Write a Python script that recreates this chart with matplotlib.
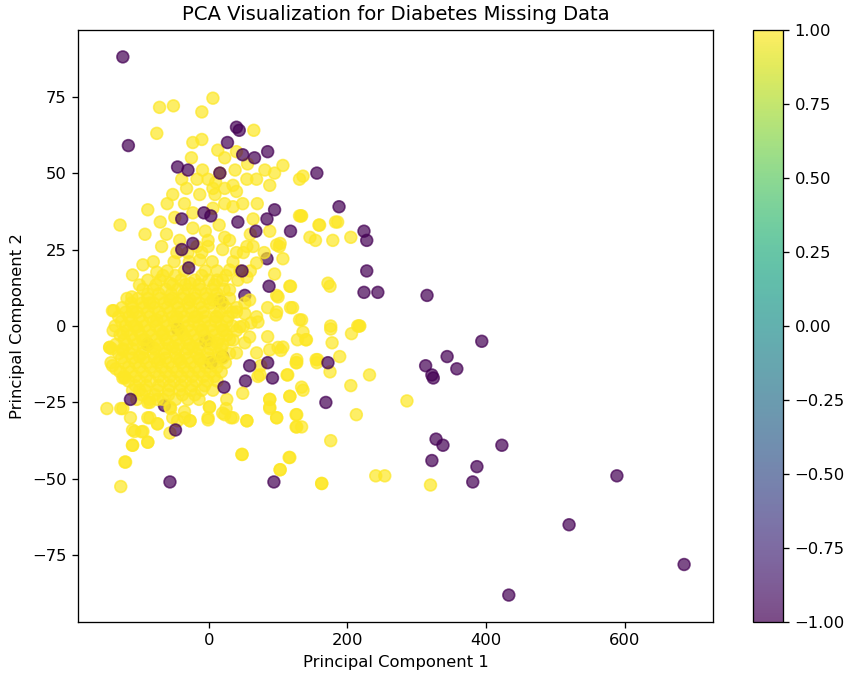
import numpy as np
import matplotlib
matplotlib.use("Agg")
import matplotlib.pyplot as plt

# PCA scores, split by label (-1 = missing, 1 = not missing)

# purple points partly hidden under the yellow cloud
under_pts = [(84, 22), (52, 10), (17, 8), (-4, -5), (20, -10), (3, -12), (-45, -1),
             (-88, -6), (-64, -26), (53, -18)]

yellow_pts = [
    (6, 74.5), (-71, 71.5), (-51, 72), (-10, 70), (65, 64), (-75, 63), (-23, 60), (-10, 61),
    (13, 57.5), (23, 55), (40, 57), (107, 52.5), (136, 49), (131, 48), (88, 46), (81, 51),
    (95, 50), (69, 48), (55, 48), (38, 51), (56, 53), (16, 50), (23, 45), (40, 44), (6, 45),
    (-9, 51), (-17, 48), (-1, 48), (-39, 48), (-52, 43), (-32, 45), (-13, 43), (9, 43),
    (-88, 38), (49, 40), (23, 40), (35, 39), (6, 38.5), (-23, 37), (-49, 35.5), (-128, 33),
    (-92, 30), (-61, 30), (-23, 32), (64, 35), (131, 36), (160, 33), (146, 29), (103, 27),
    (-42, 28), (-1, 28), (23, 29), (55, 26), (88, 31), (-68, 26), (-17, 26),
    (205, 29), (175, 13), (176, 0), (215, 0), (179, 28), (183, 34), (159, 33), (133, 36),
    (118, 13), (121, 6), (100, 9.5), (102, 26),
    (134, 36), (186, 34), (154, 28), (172, 14), (134, 2), (136, -2), (141, -4.5), (176, -1),
    (206, -2.5), (217, 0), (178, -5.5), (155, -11), (189, -10), (175, -15), (232, -16),
    (136, -21), (205, -19.5), (286, -24.5), (213, -29), (134, -33), (176, -37.5), (241, -49),
    (254, -49), (163, -51.5), (320, -52),
    (-137, 5), (118, 6), (131, 2), (218, 0), (140, -4.5), (128, -4.5), (104, -8), (157, -11),
    (126, -12), (113, -16), (117, -23), (88, -24), (88, -26.5), (126, -29), (98, -30),
    (55, -31), (126, -33), (48, -42), (117, -43), (103, -47), (-120, -44.5), (-127, -52.5),
    (-110, -39), (-88, -38), (-107, -34.5), (-95, -34.5), (-56, -35), (-147, -27), (-127, -27),
    (-113, -30), (-88, -30), (-74, -32), (-45, -31), (-27, -31), (-1, -30), (23, -29), (32, -30),
    (1, -26.5), (25, -27), (-55, -27), (-35, -30), (-88, -25), (-74, -24), (-141, -12),
    (-143, -7), (-134, -14), (-121, -17), (71, -16.5), (75, -13), (85, -3.5), (100, -7),
    (52, -5.5), (52, 4), (61, 1), (71, 1.3), (97, 3.6), (85, 6), (52, 7.5),
    (-46, 24), (-95, 20), (-110, 16.7), (-75, 17.6), (-100, 13.4), (-111, 9.5), (-139, 5),
    (-110, 4.6), (-1, 26), (20, 25), (40, 24), (64, 26), (98, 26.5), (107, 22), (95, 17),
    (117, 13), (98, 10), (98, 4.6), (69, 3), (59, 8.5), (55, 16), (69, 20.6), (30, 18.3),
    (-13, 21.6), (-56, 14), (-27, 14), (12, 15), (30, 11.8), (6, 8.5), (-27, 8.5), (-56, 8.5),
    (-85, 7.5), (40, 4.6), (12, 3), (-17, 3), (-46, 3), (-75, 2), (-104, -0.3), (-124, -2.3),
    (-143, -7), (-124, -8), (-95, -4.6), (-66, -2.3), (-38, -2.3), (-9, -1.3), (20, -1.3),
    (45, -0.3), (59, -3.6), (35, -4.6), (12, -5.6), (-23, -6.9), (-52, -6.9), (-81, -6.9),
    (-100, -10), (-71, -11), (-42, -11), (-13, -11), (16, -10), (40, -8.8), (69, -8.8),
    (88, -7.8), (107, -6.9), (127, -11),
    (-139, -13), (-124, -17), (-100, -21), (-85, -25), (-124, -27), (-85, -30), (-110, -34),
    (-97, -34.6), (-88, -38), (-110, -39), (-121, -44.5), (-74, -32), (-52, -30), (-27, -31),
    (-35, -28), (-56, -26.5), (-1, -30.7), (1, -26.5), (20, -28.5), (35, -30), (55, -31),
    (26, -24), (49, -22), (88, -24), (88, -27), (98, -30), (117, -23), (134, -20), (127, -29),
    (127, -33), (114, -16), (74, -16), (48, -42), (116, -43), (103, -47), (163, -51.5),
    (127, -12), (156, -12),
    # dense core
    (-95, 12), (-80, 12), (-62, 12), (-45, 12), (-30, 12), (-12, 12), (5, 12), (22, 12),
    (-118, 9), (-102, 9), (-88, 9), (-70, 9), (-52, 9), (-38, 9), (-20, 9), (-3, 9), (14, 9), (30, 9),
    (-125, 6), (-110, 6), (-95, 6), (-78, 6), (-60, 6), (-44, 6), (-28, 6), (-10, 6), (8, 6),
    (25, 6), (40, 6),
    (-130, 3), (-115, 3), (-100, 3), (-85, 3), (-68, 3), (-52, 3), (-35, 3), (-20, 3), (-5, 3),
    (10, 3), (28, 3),
    (-135, 0), (-120, 0), (-108, 0), (-92, 0), (-76, 0), (-60, 0), (-45, 0), (-30, 0), (-14, 0),
    (2, 0), (18, 0), (34, 0), (50, 0),
    (-128, -3), (-112, -3), (-98, -3), (-82, -3), (-66, -3), (-50, -3), (-36, -3), (-22, -3),
    (-6, -3), (8, -3), (26, -3),
    (-134, -6), (-118, -6), (-104, -6), (-88, -6), (-72, -6), (-58, -6), (-42, -6), (-28, -6),
    (-12, -6), (4, -6), (20, -6),
    (-130, -9), (-114, -9), (-96, -9), (-80, -9), (-64, -9), (-48, -9), (-34, -9), (-18, -9),
    (-2, -9), (14, -9), (30, -9),
    (-122, -12), (-106, -12), (-90, -12), (-74, -12), (-58, -12), (-40, -12), (-26, -12),
    (-8, -12), (6, -12), (24, -12),
    (-128, -15), (-112, -15), (-95, -15), (-78, -15), (-62, -15), (-46, -15), (-30, -15),
    (-14, -15), (2, -15), (18, -15),
    (-116, -18), (-100, -18), (-84, -18), (-66, -18), (-50, -18), (-34, -18), (-18, -18),
    (-2, -18), (12, -18),
    (-110, -21), (-92, -21), (-74, -21), (-58, -21), (-42, -21), (-26, -21), (-10, -21), (6, -21),
    (-104, -24), (-86, -24), (-66, -24), (-48, -24), (-30, -24), (-14, -24),
    (-88, 15), (-70, 15), (-40, 15), (-20, 15), (0, 15), (20, 15), (42, 15),
    (-60, 18), (-35, 18), (-5, 18), (12, 18), (45, 18), (60, 18),
    (-80, 21), (-50, 21), (-28, 21), (5, 21), (35, 21),
    (-30, 24), (-10, 24), (50, 24), (80, 24),
    (-5, 31), (15, 33), (30, 28), (-60, 40), (-70, 34), (70, 40), (60, 30), (-35, 40),
    (10, 47), (-25, 55), (35, 46),
    # core, second pass
    (-88, 10.5), (-72, 10.5), (-54, 10.5), (-36, 10.5), (-20, 10.5), (-4, 10.5), (12, 10.5),
    (-112, 7.5), (-96, 7.5), (-80, 7.5), (-64, 7.5), (-46, 7.5), (-30, 7.5), (-14, 7.5), (2, 7.5), (20, 7.5),
    (-120, 4.5), (-104, 4.5), (-88, 4.5), (-72, 4.5), (-56, 4.5), (-40, 4.5), (-24, 4.5), (-8, 4.5), (16, 4.5), (34, 4.5),
    (-126, 1.5), (-112, 1.5), (-96, 1.5), (-80, 1.5), (-64, 1.5), (-50, 1.5), (-36, 1.5), (-22, 1.5), (-6, 1.5), (10, 1.5), (26, 1.5),
    (-138, -1.5), (-118, -1.5), (-102, -1.5), (-86, -1.5), (-70, -1.5), (-54, -1.5), (-40, -1.5), (-26, -1.5), (-10, -1.5), (6, -1.5), (22, -1.5), (40, -1.5),
    (-122, -4.5), (-108, -4.5), (-92, -4.5), (-76, -4.5), (-62, -4.5), (-46, -4.5), (-32, -4.5), (-16, -4.5), (0, -4.5), (14, -4.5), (30, -4.5),
    (-140, -7.5), (-124, -7.5), (-110, -7.5), (-94, -7.5), (-78, -7.5), (-62, -7.5), (-46, -7.5), (-30, -7.5), (-14, -7.5), (2, -7.5), (18, -7.5),
    (-126, -10.5), (-110, -10.5), (-94, -10.5), (-78, -10.5), (-62, -10.5), (-46, -10.5), (-30, -10.5), (-14, -10.5), (0, -10.5), (20, -10.5),
    (-116, -13.5), (-100, -13.5), (-84, -13.5), (-68, -13.5), (-52, -13.5), (-36, -13.5), (-20, -13.5), (-4, -13.5), (12, -13.5),
    (-122, -16.5), (-106, -16.5), (-90, -16.5), (-72, -16.5), (-56, -16.5), (-40, -16.5), (-24, -16.5), (-8, -16.5), (8, -16.5),
    (-106, -19.5), (-90, -19.5), (-72, -19.5), (-56, -19.5), (-40, -19.5), (-24, -19.5), (-6, -19.5),
    (-96, -22.5), (-78, -22.5), (-58, -22.5), (-38, -22.5), (-20, -22.5),
    (-76, 13.5), (-52, 13.5), (-34, 13.5), (-14, 13.5), (8, 13.5),
    (-66, 16.5), (-48, 16.5), (-10, 16.5), (25, 16.5),
]

purple_pts = [
    (-124, 88), (-116, 59), (40, 65), (44, 64), (27, 60), (49, 56), (66, 55), (85, 57),
    (-45, 52), (-30, 51), (16, 50), (156, 50), (188, 39), (95, 38), (84, 35), (-7, 37),
    (3, 36), (-39, 35), (42, 34), (68, 31), (118, 31), (224, 31), (228, 28), (-23, 27),
    (-39, 25), (-29, 19), (48, 18), (87, 13), (228, 18), (224, 11), (244, 11), (315, 10),
    (394, -5), (344, -10), (358, -14), (313, -13), (324, -17), (322, -16), (172, -12),
    (169, -25), (328, -37), (338, -39), (423, -39), (322, -44), (387, -46), (381, -51),
    (589, -49), (520, -65), (686, -78), (433, -88), (-113, -24), (-48, -34), (-56, -51),
    (94, -51), (22, -20), (85, -12), (59, -13), (92, -17),
]

pts = under_pts + yellow_pts + purple_pts
labels = [-1] * len(under_pts) + [1] * len(yellow_pts) + [-1] * len(purple_pts)
x = np.array([p[0] for p in pts])
y = np.array([p[1] for p in pts])

dpi = 118
fig = plt.figure(figsize=(851 / dpi, 680 / dpi), dpi=dpi)
ax = fig.add_axes([0.0917, 0.0853, 0.7461, 0.8706])
cax = fig.add_axes([0.8848, 0.0853, 0.0353, 0.8706])

sc = ax.scatter(x, y, c=labels, cmap="viridis", alpha=0.7, s=52)
fig.colorbar(sc, cax=cax)

ax.set_title("PCA Visualization for Diabetes Missing Data")
ax.set_xlabel("Principal Component 1")
ax.set_ylabel("Principal Component 2")

fig.savefig("out.png", dpi=dpi)
